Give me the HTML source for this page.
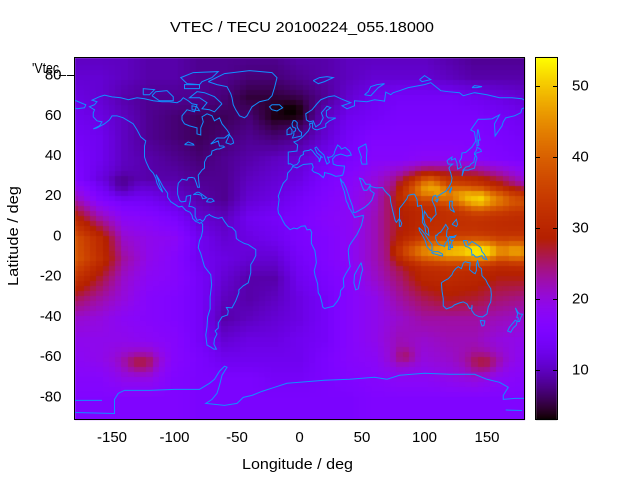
<!DOCTYPE html>
<html><head><meta charset="utf-8">
<style>
html,body{margin:0;padding:0;background:#fff;}
body{width:640px;height:480px;overflow:hidden;position:relative;}
canvas,svg{position:absolute;left:0;top:0;}
text{font-family:"Liberation Sans",Arial,sans-serif;font-size:15px;fill:#000;}
</style></head><body>
<canvas id="c" width="640" height="480"></canvas>
<svg width="640" height="480" viewBox="0 0 640 480" xmlns="http://www.w3.org/2000/svg">
<defs><clipPath id="cp"><rect x="75" y="58" width="449" height="361"/></clipPath></defs>
<g clip-path="url(#cp)">
<g transform="translate(299.5,238.5) scale(1.25,-2.0111)" fill="none" stroke="#1090ff" stroke-width="1">
<polyline vector-effect="non-scaling-stroke" points="-117,32.5 -120,34.5 -122.5,37.8 -124,40.5 -124,46 -123,48.5 -127,50.5 -130,54 -133,57 -137,58.5 -141,60 -146,61 -150,61 -152,59 -156,57 -162,55 -165,54.5 -160,56 -158,58 -162,58.5 -165,60.5 -165,62.5 -164,64 -168,65.5 -164,66.5 -162,68 -166,68.8 -160,70.5 -156,71.3 -150,70.4 -143,70 -137,69 -130,70 -124,69.5 -117,68.5 -110,68 -104,68 -98,67.5 -95,68.5 -93,70 -89,68.5 -86,67 -82,66.5 -84,63 -90,64 -94,61 -94,59 -92,57 -88,56 -82,55 -82,52 -79,51.5 -79,55 -77,58 -78,60.5 -74,62 -70,61 -68,58.5 -64,60 -62,57 -58,54 -56,52 -60,50 -66,50 -71,47 -65,48.5 -64,46 -61,46 -60,45.5 -64,44.5 -66,44.5 -70,43.5 -70.5,41.7 -74,40.5 -76,38 -76,35 -78,34 -81,31.5 -80.5,28 -80,25.5 -81.5,25.5 -82.5,27.5 -84,30 -86,30.4 -89,30.2 -90,29 -94,29.5 -97,27.5 -97.5,25 -97.5,22 -96,19 -94.5,18.2 -91,18.5 -90.5,21 -87,21.5 -87.5,18.5 -88.5,16 -86,15.8 -83.5,15 -83.5,11 -82,9 -79.5,9.5 -77.5,8.5 -76,9.5 -75,11 -72,12 -71.5,11.5 -68,10.5 -65,10 -62,10.5 -60,8.5 -57,6 -54,5.5 -51,3.5 -50.5,0 -48.5,-1 -44,-2.5 -41,-3 -37.5,-4.5 -35,-5.5 -35,-8.5 -37,-11 -39,-13 -39,-17 -41,-22 -45,-23.5 -48.5,-25.5 -48.5,-27 -51,-31 -54,-34.5 -58.5,-34.3 -57,-36 -57.5,-38 -62,-39 -65,-42 -65,-44.5 -67.5,-46 -66,-47.5 -68,-50 -68.5,-52.5 -66.5,-55 -68.5,-55 -71,-54 -74,-53 -75,-48 -74,-44 -73.5,-39 -71.5,-35 -71.5,-29 -70.3,-23 -71,-18 -76,-14 -79,-7.5 -81,-4.5 -80,-1 -78.5,1 -77.5,4 -77.5,7 -78.5,8 -80,7.5 -81,8 -83,8.5 -85.5,10 -86,11.5 -87.5,13 -91,14 -94,16 -96.5,15.7 -99,16.7 -103,18.3 -105.5,20.5 -105.5,22.5 -109,25.5 -112,29 -114.8,31.8 -113,29 -112,27 -110,24 -109.5,23 -112,25 -114,27.5 -115,30 -117,32.5"/>
<polyline vector-effect="non-scaling-stroke" points="-73,78 -60,82 -40,83.5 -22,82.5 -18,80 -20,75 -22,71 -25,69 -32,68 -38,65.5 -42,61 -44,60 -48,61 -51,64 -53,66.5 -54,70 -55,72 -58,75.5 -66,76.5 -73,78"/>
<polyline vector-effect="non-scaling-stroke" points="-62,67 -65,65 -68,63 -72,64 -78,64.5 -74,67.5 -80,70 -88,70 -82,73 -76,72.5 -68,70.5 -62,67"/>
<polyline vector-effect="non-scaling-stroke" points="-118,71 -112,68.5 -101,68.5 -101,70.5 -106,73.5 -115,73 -118,71"/>
<polyline vector-effect="non-scaling-stroke" points="-80,76.5 -90,77 -95,80 -85,82.5 -65,83 -70,80 -78,78 -80,76.5"/>
<polyline vector-effect="non-scaling-stroke" points="-125,71.5 -120,71.5 -116,74 -125,74.5 -125,71.5"/>
<polyline vector-effect="non-scaling-stroke" points="-80,74.5 -92,74.5 -92,76.5 -80,76.5 -80,74.5"/>
<polyline vector-effect="non-scaling-stroke" points="-86,64 -80,63.5 -82,65.5 -86,66 -86,64"/>
<polyline vector-effect="non-scaling-stroke" points="-59,47.6 -56,51.6 -53.5,49.5 -52.7,47.5 -55,46.8 -59,47.6"/>
<polyline vector-effect="non-scaling-stroke" points="-92,46.7 -89,48 -85,47 -84.5,46.5 -87,46.5 -92,46.7"/>
<polyline vector-effect="non-scaling-stroke" points="-85,21.8 -82,23 -80.5,23 -77,21.5 -74.2,20.2 -77.5,19.8 -78.5,21.5 -81.5,22 -84,21.9 -85,21.8"/>
<polyline vector-effect="non-scaling-stroke" points="-74.5,18.3 -72.5,19.9 -70,19.7 -68.3,18.6 -71,18 -74.5,18.3"/>
<polyline vector-effect="non-scaling-stroke" points="-22,64 -24,65.5 -22,66.5 -16,66.5 -13.5,65 -18,63.4 -22,64"/>
<polyline vector-effect="non-scaling-stroke" points="-5,50 1.5,51 1.7,52.7 0,53.5 -1.5,55 -2,56 -1.8,57.6 -3.5,58.6 -5,58.6 -6,57 -5.5,55.5 -3,54.8 -3.2,53.5 -4.5,53.2 -4.5,51.7 -5.7,50 -5,50"/>
<polyline vector-effect="non-scaling-stroke" points="-6,52 -6,54 -7.5,55.3 -10,54 -10,51.6 -6,52"/>
<polyline vector-effect="non-scaling-stroke" points="-9,37 -9,43 -2,43.5 -1.5,46.5 -4.5,48 -1.5,48.7 1.5,50 4,51.5 7,53.5 8.5,55.5 8,57 10.5,57.5 10.5,55 12,54.3 14,54 18,54.8 21,55.5 21,57 24,58.5 29,59.9 23,60 21.5,61 21.5,63.5 25,65 22,65.8 17.5,62.5 19,60 16.5,57 13,55.5 11,58.5 8,58 5.5,59 5,62 10,64 14,67 17,69 23,70.5 28,71 33,69.5 41,67.5 34,66 38,64.5 44,66 44,68.5 54,68 60,69 68,68.3 69,72.8 73,71.5 75,72.5 80,73.5 87,75 100,76.5 105,77.5 113,73.5 119,73 128,72.5 131,71 140,72.5 150,71.5 160,70 170,70 178,69.5 180,68.8"/>
<polyline vector-effect="non-scaling-stroke" points="-180,68.8 -175,67.5 -171,66.5 -172,65 -178,64.5 -180,65"/>
<polyline vector-effect="non-scaling-stroke" points="180,65 178,64.5 177,62.5 172,61 165,60 163,58 162,56 156.5,51 156,57 160,61.5 154,59.5 148,59.3 143,59.3 137,54 140,53 141,48.5 138,45.5 133,42.8 130,42.5 129.5,40 128,38.5 129.5,35.5 126.5,34.5 126,37.5 124.5,39.8 121.5,39 122,40.5 119,39.2 118,38.5 119,37 122.5,37 120.5,36 119.5,35 121,32.5 122,30 121.5,28 119.5,25.5 117,23.5 113.5,22.2 110.5,21 110,20.3 109,21.5 107,21 106,19 108.5,15.5 109.3,12 107,10.5 105,8.7 105,10 103,10.5 101,12.6 100,13.5 99.2,10 100.5,7 103,5 103.5,1.5 101,2.8 100.3,6 98.3,8 98.5,13 97.5,16.5 94.5,16 94,19.5 92,22 90.5,22 87,21.5 86,19.8 82,16.5 80,15 80,10 77.5,8 76.5,9 74.5,14 73,18 72.5,21 70,22.5 68.5,23.5 66.5,25.3 61.5,25.2 57.3,25.8 56.3,27 53,27 50.5,29.5 48,30 50,26 51.5,24 54,24 56.3,26.2 56.5,24 59.8,22.5 57.8,19 55,17 52,15.5 45,13 43.2,13 42.5,15.8 40,20 39,22 37,25.5 35,28 34.5,28 32.5,29.9 34,26.5 35.8,23.5 37.5,18.5 38.5,17.5 39.5,15.5 41.5,13.5 43.3,11.6 44,10.5 51,11.5 51,10.5 49.5,6.5 46,2 41.5,-2 40,-3.5 39,-6 39.5,-10 40.5,-14 37,-17.5 35,-20 35.5,-24 32.8,-26 32.5,-28.5 30.5,-31 27,-33.7 25,-34 20,-34.8 18.5,-34 18,-32 16.5,-28.5 15,-27 14.5,-22.5 12.5,-18.5 11.8,-16 13.5,-12 13,-9 12.3,-6 9.5,-2.5 9.5,1 9.8,3 8.5,4.5 6,4.3 4.5,6.3 1.5,6.1 -2,4.8 -4.5,5.2 -7.5,4.4 -11.5,6.8 -13.5,9 -15,11 -16.8,12.5 -17.3,14.7 -16.3,19.5 -17,21 -15,24.5 -13,27.5 -10,29.5 -9.5,32.5 -6.5,34.5 -5.5,35.8 -2,35.1 3,36.8 10,37.2 11,35.5 10,34 11.5,33.1 15.3,32.2 19,30.3 20,31.5 20,32.8 25,32 29,30.9 32.5,31.2 34.5,31.5 35.5,33.5 36,36 33,36.2 30,36.3 27,37 26.5,39.5 28.5,41 29,41.2 33,42 38,41 41.5,41.5 40,43.5 38,44.5 36.5,45.3 33.5,44.5 32.5,45.5 30.5,46.5 29,44.5 28,43 27.7,42 26,40.8 23.5,40.3 22.5,40.5 24,38 22,37 21,38.5 19.5,41.5 16,43.5 13.5,45.5 12.3,45 14,42.5 16,41.5 18.5,40.2 17,40.5 16.5,39 15.7,38 15.8,39.5 15,40.2 12.5,41.8 10.5,43.5 9,44.3 7.5,43.8 4,43.5 3,43 3.2,41.8 0.8,41 -0.5,39 0,38.5 -2,36.8 -5,36.3 -6.3,36.8 -7.5,37.2 -9,37"/>
<polyline vector-effect="non-scaling-stroke" points="47,45 53,47 54,44 53.5,40 54,37 50,37 49,39 49.5,40.5 47,45"/>
<polyline vector-effect="non-scaling-stroke" points="52,71.5 55,73 57,75.5 62,76.5 68,77 63,75 57,71 52,71.5"/>
<polyline vector-effect="non-scaling-stroke" points="11,78.5 16,80 22,80.5 27,80 20,78 15,77 11,78.5"/>
<polyline vector-effect="non-scaling-stroke" points="96,79 100,81 105,79 98,78 96,79"/>
<polyline vector-effect="non-scaling-stroke" points="138,75 142,75 146,75.5 140,76 138,75"/>
<polyline vector-effect="non-scaling-stroke" points="130,31 131.5,34 135,34 140,35 141,38 142,40 141,41.5 140,40 139.5,38 137,37 136,36 133,35.5 130.8,34 130,31"/>
<polyline vector-effect="non-scaling-stroke" points="140,41.5 141.5,42.5 145.5,43.3 145,44.3 142,45.4 141.5,43.8 140,42.5 140,41.5"/>
<polyline vector-effect="non-scaling-stroke" points="142,46 143.5,46.5 143,49 144.5,49 143,54 142.5,54 142,51 142,46"/>
<polyline vector-effect="non-scaling-stroke" points="120.3,22.5 121.8,25 121.5,25.3 120.2,23.5 120.3,22.5"/>
<polyline vector-effect="non-scaling-stroke" points="108.6,19 111,19.6 110,18.2 108.6,19"/>
<polyline vector-effect="non-scaling-stroke" points="120,18.5 122.3,18.5 122,16 124,13 123,13.5 121.5,14 120.5,14.5 120,16 120,18.5"/>
<polyline vector-effect="non-scaling-stroke" points="122,7 125.5,9.5 126.5,7 125.5,6 124,6.5 122,7"/>
<polyline vector-effect="non-scaling-stroke" points="109,1.8 110,1.5 111,2.5 113,3.2 115.5,5.5 117,7 119,5 118,4.2 117.5,1 119,0.5 118.5,-1 116.5,-2.5 116,-4 114.5,-3.5 111.5,-3 110,-1.7 109,0 109,1.8"/>
<polyline vector-effect="non-scaling-stroke" points="95.5,5.5 98,4 100.5,2 103.5,-1 106,-3 106,-6 104.5,-5.8 102,-4 100.5,-1 98.5,1.5 96,4 95.5,5.5"/>
<polyline vector-effect="non-scaling-stroke" points="105.5,-6.8 108,-6.5 111,-6.5 114.5,-7.8 114.5,-8.7 111,-8.2 106.5,-7.4 105.5,-6.8"/>
<polyline vector-effect="non-scaling-stroke" points="119,-5.5 119.5,-3.5 119,-1 120,1 123,1 125,1.5 124,0.5 121,0.5 121,-1 123,-0.8 121.5,-2 122.5,-4.5 121.3,-4.5 120.5,-2.8 120.5,-5.5 119,-5.5"/>
<polyline vector-effect="non-scaling-stroke" points="131,-1 134,-1 135,-3.2 138,-1.5 141,-2.6 145,-4.5 146,-6.5 148,-8 150,-10.5 147,-10 146,-8.5 143.5,-9 142.5,-9.3 141,-9.2 139,-8 138,-8.4 137.5,-5.5 135,-4.3 133,-4 132,-2.8 131,-1"/>
<polyline vector-effect="non-scaling-stroke" points="113.5,-22 114,-26 115,-30 115,-33.5 117.5,-35 122,-34 124,-33 128,-32 131,-31.5 134,-32.5 136,-34.8 138,-34.5 138,-33 137.7,-35.7 140,-37.8 143.5,-38.8 146.5,-39 150,-37.5 151,-34 153,-31.5 153.5,-28 153,-25 150.5,-22.5 149,-20.5 146,-18.5 145.5,-15 143.5,-14 142.5,-10.8 141.5,-13 141.5,-16 140.5,-17.5 139,-17 136,-15.5 136.5,-12 135,-12 132.5,-11.5 131,-12.2 129.5,-15 127,-14 125,-15 123,-16.5 122,-18 119,-20 116,-21 113.5,-22"/>
<polyline vector-effect="non-scaling-stroke" points="144.5,-40.7 148.3,-41 147.5,-43.3 146,-43.5 144.5,-40.7"/>
<polyline vector-effect="non-scaling-stroke" points="172.7,-34.5 174.5,-36.5 176,-37.5 178.5,-37.7 177,-39.3 176,-41.3 174.7,-41.3 175,-39.5 173.8,-39.2 174.5,-37.5 172.7,-34.5"/>
<polyline vector-effect="non-scaling-stroke" points="172.7,-40.5 174,-41.3 173.5,-43 171,-44.5 169,-46.6 166.5,-46 168,-44 171.5,-41.5 172.7,-40.5"/>
<polyline vector-effect="non-scaling-stroke" points="49.3,-12 50.5,-15.5 49.5,-17.5 47,-25 45,-25.5 43.5,-22 44,-18 46,-15.8 48,-13.5 49.3,-12"/>
<polyline vector-effect="non-scaling-stroke" points="80,9.8 81.8,7.5 81,6 80,6 79.8,8 80,9.8"/>
<polyline vector-effect="non-scaling-stroke" points="-180,-86.5 -148,-87 -148,-80 -145,-77 -140,-75.5 -120,-75.5 -100,-75 -80,-75 -72,-72 -68,-70 -64,-66 -60,-63.5 -58,-64 -62,-68 -64,-73 -66,-77 -70,-80 -75,-82 -60,-83 -50,-82 -45,-79 -38,-78 -30,-76 -20,-74 -10,-72 0,-71.5 20,-70.5 40,-70 60,-69 70,-70 80,-68 100,-67 120,-67.5 140,-67.5 150,-70 160,-71.5 167,-74 163,-78 163,-80 172,-79.5 180,-79.5"/>
<polyline vector-effect="non-scaling-stroke" points="-180,-80.5 -158,-80.5"/>
<polyline vector-effect="non-scaling-stroke" points="165,-85.3 178,-85.5"/>
</g></g>
<rect x="74.5" y="57.5" width="450" height="362" fill="none" stroke="#000" stroke-width="1"/>
<line x1="67" y1="75.5" x2="74" y2="75.5" stroke="#000" stroke-width="1"/>
<rect x="535.5" y="57.5" width="22" height="362" fill="none" stroke="#000" stroke-width="1"/>
<g stroke="#000" stroke-width="1">
<line x1="536" y1="370.5" x2="540" y2="370.5"/><line x1="553" y1="370.5" x2="557" y2="370.5"/>
<line x1="536" y1="299.5" x2="540" y2="299.5"/><line x1="553" y1="299.5" x2="557" y2="299.5"/>
<line x1="536" y1="228.5" x2="540" y2="228.5"/><line x1="553" y1="228.5" x2="557" y2="228.5"/>
<line x1="536" y1="157.5" x2="540" y2="157.5"/><line x1="553" y1="157.5" x2="557" y2="157.5"/>
<line x1="536" y1="86.5" x2="540" y2="86.5"/><line x1="553" y1="86.5" x2="557" y2="86.5"/>
</g>
<text x="170" y="32" textLength="264" lengthAdjust="spacingAndGlyphs">VTEC / TECU 20100224_055.18000</text>
<text x="32" y="73" textLength="34" lengthAdjust="spacingAndGlyphs">'Vtec_</text>
<g text-anchor="end">
<text x="61.5" y="79.6">80</text>
<text x="61.5" y="119.8">60</text>
<text x="61.5" y="160">40</text>
<text x="61.5" y="200.2">20</text>
<text x="61.5" y="240.5">0</text>
<text x="61.5" y="280.7">-20</text>
<text x="61.5" y="320.9">-40</text>
<text x="61.5" y="361.1">-60</text>
<text x="61.5" y="401.3">-80</text>
</g>
<g text-anchor="middle">
<text x="112" y="442">-150</text>
<text x="174.5" y="442">-100</text>
<text x="237" y="442">-50</text>
<text x="299.5" y="442">0</text>
<text x="362" y="442">50</text>
<text x="424.5" y="442">100</text>
<text x="487" y="442">150</text>
</g>
<text x="572" y="374.5">10</text>
<text x="572" y="303.5">20</text>
<text x="572" y="232.5">30</text>
<text x="572" y="161.5">40</text>
<text x="572" y="90.5">50</text>
<text x="242" y="469" textLength="111" lengthAdjust="spacingAndGlyphs">Longitude / deg</text>
<text transform="translate(18,236) rotate(-90)" x="-50" y="0" textLength="100" lengthAdjust="spacingAndGlyphs">Latitude / deg</text>
</svg>
<script>
(function(){
var G=[
[10,10,10,9,9,8,8,8,8,9,9,10,10,10,10,9,8,8,8],
[11,11,10,9,9,8,8,7,7,8,9,10,11,11,11,10,9,9,9],
[12,11,9,8,8,8,7,5,5,6,8,11,13,14,14,14,13,12,11],
[13,12,10,8,7,6,6,7,4,5,10,13,14,15,15,15,15,14,13],
[14,13,10,8,7,6,7,8,7,8,11,14,16,16,16,16,16,15,14],
[15,13,10,9,8,7,8,9,10,11,13,15,17,17,18,18,17,16,15],
[16,12,10,9,9,8,8,10,11,12,15,17,20,24,29,30,29,25,20],
[22,16,14,13,11,9,8,11,12,14,16,18,21,29,30,30,29,28,24],
[30,23,18,17,15,11,10,13,14,15,17,18,22,28,31,32,32,31,30],
[38,31,21,19,18,13,11,12,13,15,16,18,22,28,32,33,33,32,32],
[39,32,23,19,17,13,12,11,11,14,16,18,22,27,31,32,31,30,31],
[33,27,21,18,17,14,11,9,9,13,15,17,21,25,30,31,30,28,28],
[26,23,20,17,16,14,10,9,10,12,14,17,19,23,26,28,27,25,24],
[21,20,18,17,16,14,9,10,11,12,14,17,19,21,23,23,23,22,21],
[19,19,19,18,17,14,11,12,12,13,14,17,19,22,21,22,22,20,19],
[18,19,21,22,17,15,13,13,13,13,15,17,18,22,20,21,23,21,18],
[17,17,19,19,16,15,15,15,14,14,15,16,17,18,18,19,20,18,17],
[16,16,16,16,16,15,15,15,15,15,15,15,16,16,16,16,16,16,16],
[16,16,16,16,16,15,15,15,15,15,15,15,16,16,16,16,16,16,16]];
function grid(lon,lat){
 var fi=(lon+180)/20,fj=(90-lat)/10;
 fi=Math.max(0,Math.min(17.9999,fi));fj=Math.max(0,Math.min(17.9999,fj));
 var i=Math.floor(fi),j=Math.floor(fj),a=fi-i,b=fj-j;
 return G[j][i]*(1-a)*(1-b)+G[j][i+1]*a*(1-b)+G[j+1][i]*(1-a)*b+G[j+1][i+1]*a*b;
}
function pl(p,x){
 if(x<=p[0][0])return p[0][1];
 for(var k=1;k<p.length;k++){if(x<=p[k][0]){var t=(x-p[k-1][0])/(p[k][0]-p[k-1][0]);return p[k-1][1]+t*(p[k][1]-p[k-1][1]);}}
 return p[p.length-1][1];
}
var NP=[[75,0],[88,8],[100,16],[108,18],[120,13],[135,20],[145,22],[158,15],[170,12],[180,12]];
var NC=[[80,24],[105,25],[120,22],[140,20],[180,19]];
var SP=[[70,0],[85,8],[100,13],[115,16],[130,18],[142,22],[152,20],[162,13],[172,16],[180,14]];
function ga(lon,lat,l0,p0,sl,sp,a){var dl=(lon-l0)/sl,dp=(lat-p0)/sp;return a*Math.exp(-(dl*dl+dp*dp));}
function V(lon,lat){
 var v=grid(lon,lat);
 var aN=pl(NP,lon),cN=pl(NC,lon);
 v+=aN*Math.exp(-Math.pow((lat-cN)/6,2));
 var aS=pl(SP,lon);
 v+=aS*Math.exp(-Math.pow((lat+6.5)/5.5,2));
 v+=ga(lon,lat,-143,26,10,6,-3);
 v+=ga(lon,lat,-5,64,12,5,-2);
 v+=ga(lon,lat,-128,-62,12,5,5);
 v+=ga(lon,lat,148,-62,11,5,4.5);
 v+=ga(lon,lat,85,-58,7,4,3);
 return v;
}
var VMIN=3.1,VMAX=54.04;
function col(v){
 var x=(v-VMIN)/(VMAX-VMIN);x=Math.max(0,Math.min(1,x));
 var r=Math.sqrt(x),g=x*x*x,b=Math.sin(2*Math.PI*x);if(b<0)b=0;
 return 'rgb('+Math.round(r*255)+','+Math.round(g*255)+','+Math.round(b*255)+')';
}
var c=document.getElementById('c').getContext('2d');
function px(lon){return 74.5+(lon+180)*1.25;}
function py(lat){return 57.5+(90-lat)*362/180;}
for(var lon=-180;lon<=180;lon+=5){
 for(var lat=90;lat>=-90;lat-=2.5){
  var la=Math.max(-180,lon-2.5),lb=Math.min(180,lon+2.5);
  var ta=Math.min(90,lat+1.25),tb=Math.max(-90,lat-1.25);
  var x0=Math.round(px(la)),x1=Math.round(px(lb)),y0=Math.round(py(ta)),y1=Math.round(py(tb));
  if(x1<=x0||y1<=y0)continue;
  c.fillStyle=col(V(lon,lat));
  c.fillRect(x0,y0,x1-x0,y1-y0);
 }
}
for(var y=57;y<420;y++){
 var v=VMIN+(419.3-(y+0.5))/362*(VMAX-VMIN);
 c.fillStyle=col(v);
 c.fillRect(536,y,21,1);
}
})();
</script>
</body></html>
